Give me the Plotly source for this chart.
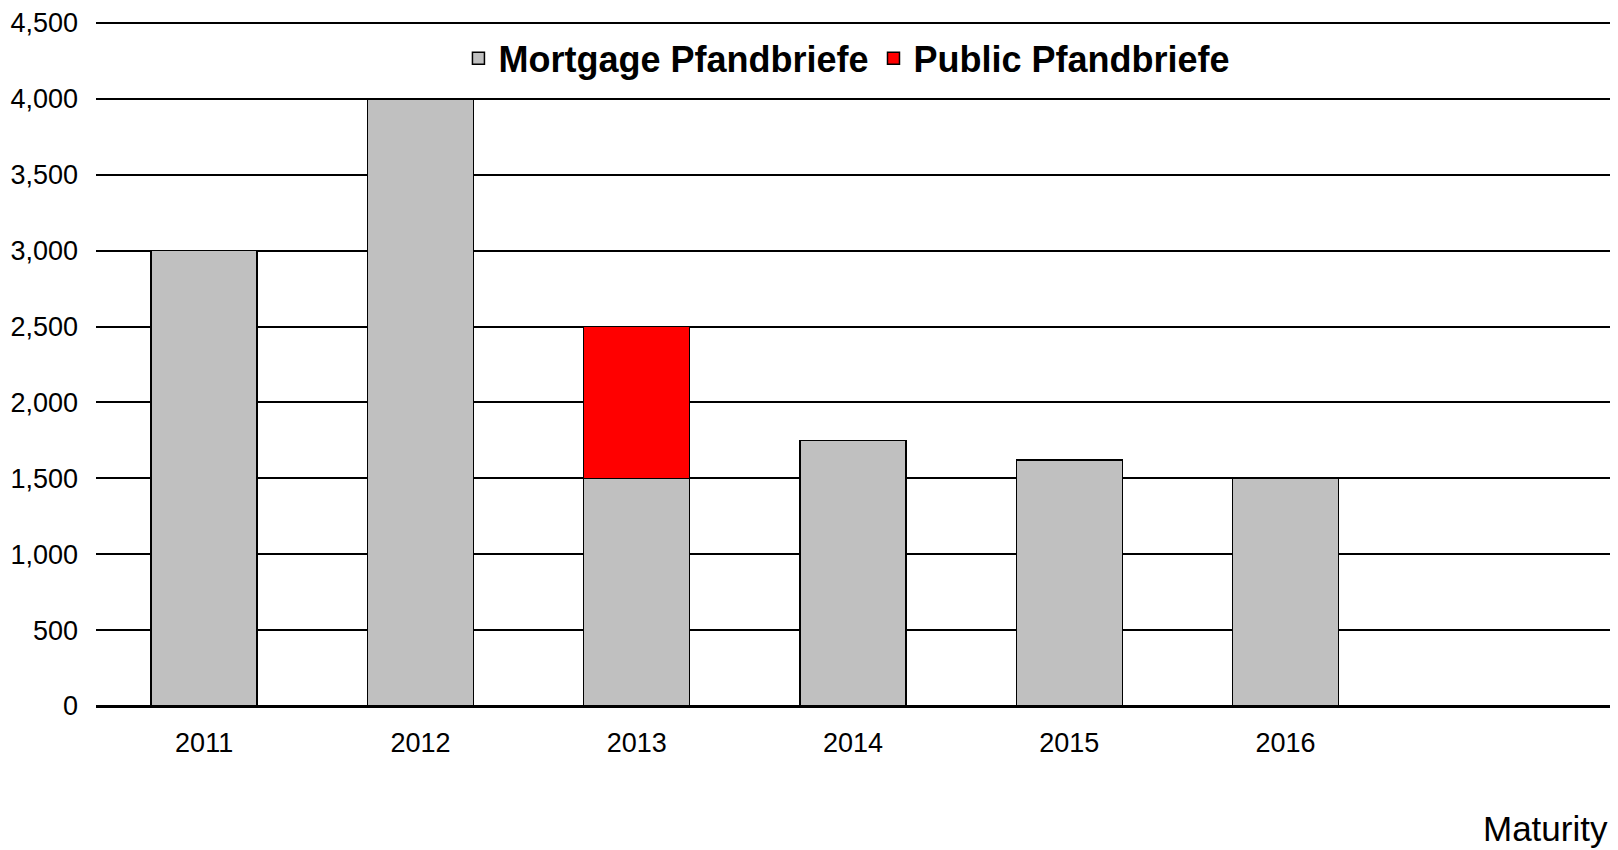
import plotly.graph_objects as go

years = [2011, 2012, 2013, 2014, 2015, 2016]
mortgage = [3000, 4000, 1500, 1750, 1620, 1500]
public = [None, None, 1000, None, None, None]
y_ticks = [0, 500, 1000, 1500, 2000, 2500, 3000, 3500, 4000, 4500]
y_tick_text = ["0", "500", "1,000", "1,500", "2,000", "2,500", "3,000", "3,500", "4,000", "4,500"]

FONT = "Liberation Sans, Arial, sans-serif"

fig = go.Figure()
fig.add_trace(go.Bar(x=years, y=mortgage, name="Mortgage Pfandbriefe", width=0.49,
                     marker=dict(color="#C0C0C0", line=dict(color="black", width=1.5))))
fig.add_trace(go.Bar(x=years, y=public, name="Public Pfandbriefe", width=0.49,
                     marker=dict(color="#FF0000", line=dict(color="black", width=1.5))))

fig.update_layout(
    barmode="stack",
    width=1618, height=850,
    margin=dict(l=96, r=8, t=16, b=144),
    plot_bgcolor="white", paper_bgcolor="white",
    font=dict(family=FONT, color="black", size=27),
    legend=dict(orientation="h", x=0.496, xanchor="center", y=0.944, yanchor="middle",
                traceorder="normal", bgcolor="rgba(0,0,0,0)",
                font=dict(family=FONT, size=36, color="black", weight="bold")),
    xaxis=dict(range=[2010.5, 2017.5], tickvals=years, ticktext=[str(y) for y in years],
               showgrid=False, zeroline=False, showline=False, ticks="",
               ticklabelstandoff=18, tickfont=dict(size=27)),
    yaxis=dict(range=[0, 4520], tickvals=y_ticks, ticktext=y_tick_text,
               showgrid=True, gridcolor="black", gridwidth=1.5,
               zeroline=True, zerolinecolor="black", zerolinewidth=3,
               showline=False, ticks="", ticklabelstandoff=17, tickfont=dict(size=27)),
    annotations=[dict(text="Maturity", x=1, xref="paper", xanchor="right",
                      y=-0.178, yref="paper", yanchor="middle", showarrow=False,
                      font=dict(family=FONT, size=35, color="black"))],
)

fig.write_html("out.html", config={"displayModeBar": False},
               post_script="document.body.style.margin='0';document.body.style.overflow='hidden';")
